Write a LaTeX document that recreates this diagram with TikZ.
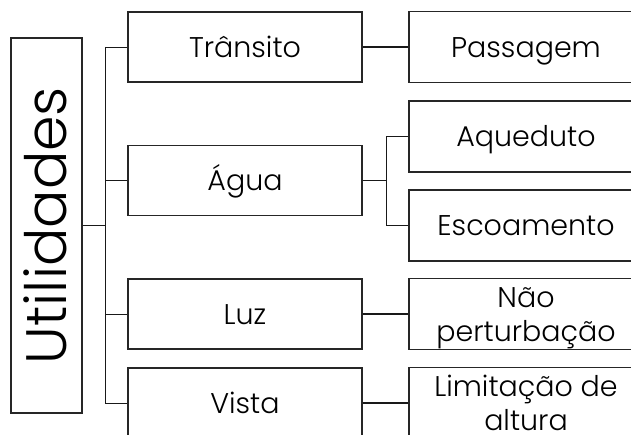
\documentclass[tikz,border=0pt]{standalone}
\usepackage{fontspec}
\setmainfont{Poppins}[UprightFont=* Light]
\begin{document}
\begin{tikzpicture}[x=1pt,y=-1pt,
  box/.style={draw=black!85,line width=1.2pt,rectangle,inner sep=0pt,align=center,font=\fontsize{28.5}{34}\selectfont,text height=21pt,text depth=0pt},
  lone/.style={box,minimum width=234pt,minimum height=70pt},
  ltwo/.style={box,minimum width=234pt,minimum height=71pt},
  twoline/.style={text height=55pt,text depth=0pt},
  thin/.style={draw=black!90,line width=0.9pt},
  thick/.style={draw=black!90,line width=1.8pt}]
\useasboundingbox (0,0) rectangle (631,435);
\clip (0,0) rectangle (631,435);
\node[box,rotate=90,minimum width=375pt,minimum height=71pt,font=\fontsize{57}{60}\selectfont,text height=40pt] (root) at (46.5,225.5) {Utilidades};
\node[lone] (trans) at (245,47) {Trânsito};
\node[lone] (agua) at (245,180.5) {Água};
\node[lone] (luz) at (245,314) {Luz};
\node[lone] (vista) at (245,403) {Vista};
\node[ltwo] (pass) at (526,47) {Passagem};
\node[ltwo] (aque) at (526,136.5) {Aqueduto};
\node[ltwo] (esco) at (526,225.5) {Escoamento};
\node[ltwo,twoline] (nao) at (526,314) {Não\\perturbação};
\node[ltwo,twoline] (lim) at (526,403) {Limitação de\\altura};
\coordinate (j1) at (105,225.5);
\coordinate (j2) at (386,180.5);
\path[thin] (root.south) -- (j1);
\path[thin] (j1 |- trans.west) -- (j1 |- vista.west);
\path[thin] (j1 |- trans.west) -- (trans.west);
\path[thin] (j1 |- agua.west) -- (agua.west);
\path[thin] (j1 |- luz.west) -- (luz.west);
\path[thin] (j1 |- vista.west) -- (vista.west);
\path[thick] (trans.east) -- (pass.west);
\path[thick] (agua.east) -- (j2);
\path[thin] (j2 |- aque.west) -- (j2 |- esco.west);
\path[thin] (j2 |- aque.west) -- (aque.west);
\path[thin] (j2 |- esco.west) -- (esco.west);
\path[thick] (luz.east) -- (nao.west);
\path[thick] (vista.east) -- (lim.west);
\end{tikzpicture}
\end{document}
